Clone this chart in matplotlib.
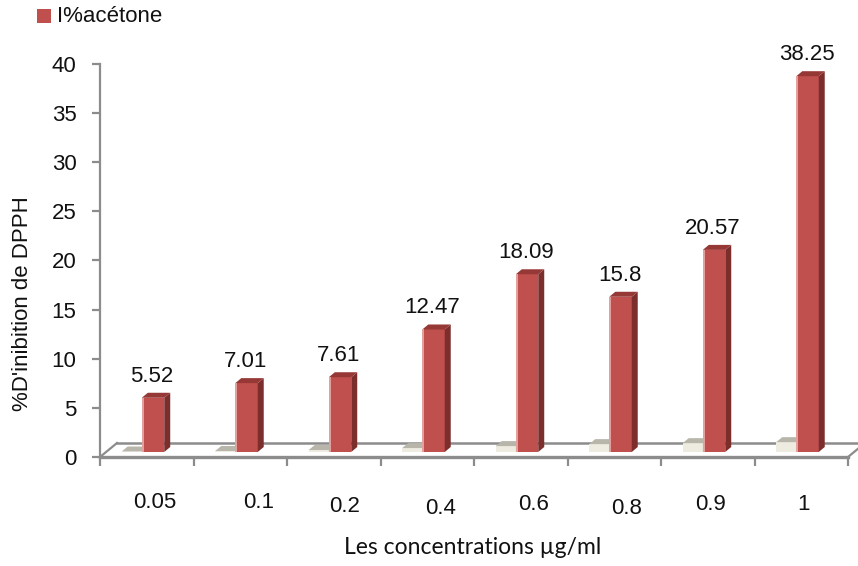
import matplotlib
matplotlib.use('Agg')
import matplotlib.pyplot as plt
from matplotlib.patches import Polygon, Rectangle
from matplotlib.transforms import ScaledTranslation

# ---------------- data ----------------
categories = ['0.05', '0.1', '0.2', '0.4', '0.6', '0.8', '0.9', '1']
inhibition = [5.52, 7.01, 7.61, 12.47, 18.09, 15.8, 20.57, 38.25]   # I%acétone
concentration = [0.05, 0.1, 0.2, 0.4, 0.6, 0.8, 0.9, 1]              # hidden second series
y_ticks = [0, 5, 10, 15, 20, 25, 30, 35, 40]
series_name = 'I%acétone'
x_title = 'Les concentrations µg/ml'
y_title = "%D'inibition de DPPH"

# small text nudges (pixels) for the category labels, as placed in the original
label_dx = [8, 18, 11, 13, 13, 12, 3, 2]
label_dy = [-46, -45, -49, -51, -48, -51, -48, -48]

# ---------------- fonts ----------------
ARIAL = ['Liberation Sans', 'DejaVu Sans']
HUMAN = ['Lato', 'DejaVu Sans']
FS = 16

# ---------------- layout ----------------
W, H = 858, 566
DPI = 100
L, R, T, B = 100, 848, 64, 457     # plot frame in pixels
fig = plt.figure(figsize=(W / DPI, H / DPI), dpi=DPI)
ax = fig.add_axes([L / W, 1 - B / H, (R - L) / W, (B - T) / H])
n = len(categories)
ax.set_xlim(0, n)
ax.set_ylim(y_ticks[0], y_ticks[-1])

sx = (R - L) / n                              # px per category
sy = (B - T) / (y_ticks[-1] - y_ticks[0])     # px per unit
GREY = '#8c8c8c'

# axes styling
for s in ['top', 'right', 'bottom']:
    ax.spines[s].set_visible(False)
ax.spines['left'].set_color(GREY)
ax.spines['left'].set_linewidth(1.6)
ax.set_yticks(y_ticks)
ax.set_yticklabels([str(v) for v in y_ticks], fontfamily=ARIAL, fontsize=FS, color='#111111')
ax.set_xticks(range(n + 1))
ax.set_xticklabels([''] * (n + 1))
ax.tick_params(axis='y', direction='out', length=6, width=1.6, color=GREY, pad=11)
ax.tick_params(axis='x', direction='out', length=6.5, width=1.6, color=GREY)

# floor (3D depth)
fdx, fdy = 17 / sx, 14 / sy
floor = Polygon([(0, 0), (n, 0), (n + fdx, fdy), (fdx, fdy)], closed=True,
                facecolor='white', edgecolor='none', zorder=1, clip_on=False)
ax.add_patch(floor)
ax.plot([fdx, n + fdx * 2], [fdy, fdy], color=GREY, lw=1.8, zorder=1.5, clip_on=False)
ax.plot([0, fdx], [0, fdy], color=GREY, lw=1.6, zorder=1.5, clip_on=False)
ax.plot([n, n + fdx], [0, fdy], color=GREY, lw=1.6, zorder=1.5, clip_on=False)
ax.plot([0, n], [0, 0], color=GREY, lw=2.4, zorder=4, clip_on=False)

# bars
shift = ax.transData + ScaledTranslation(0, 5 / DPI, fig.dpi_scale_trans)
bdx, bdy = 6 / sx, 5 / sy
red_off, red_w = 0.067, 0.24
beige_w = 0.215


def bar3d(xl, w, h, front, top, side, z):
    ax.bar(xl, h, width=w, align='edge', color=front, transform=shift, zorder=z, linewidth=0)
    ax.add_patch(Polygon([(xl + w, 0), (xl + w + bdx, bdy), (xl + w + bdx, h + bdy), (xl + w, h)],
                         closed=True, facecolor=side, edgecolor='none', transform=shift, zorder=z))
    ax.add_patch(Polygon([(xl, h), (xl + w, h), (xl + w + bdx, h + bdy), (xl + bdx, h + bdy)],
                         closed=True, facecolor=top, edgecolor='none', transform=shift, zorder=z))


for i in range(n):
    c = i + 0.5
    rl = c + red_off - red_w / 2
    # beige series (behind / left)
    bar3d(rl - beige_w, beige_w, concentration[i], '#eeece1', '#b8b5aa', '#d3d0c2', 2)
    # red series
    bar3d(rl, red_w, inhibition[i], '#c0504d', '#963836', '#7c2e2c', 3)
    ax.bar(rl, inhibition[i], width=2 / sx, align='edge', color='#e2a09e', transform=shift,
           zorder=3.1, linewidth=0)
    ax.annotate(f'{inhibition[i]:g}', xy=(c + red_off, inhibition[i]), xytext=(-1, 21),
                textcoords='offset pixels', ha='center', va='baseline',
                fontfamily=ARIAL, fontsize=FS, color='#111111', zorder=5)
    ax.annotate(categories[i], xy=(c, 0), xytext=(label_dx[i], label_dy[i]),
                textcoords='offset pixels', ha='center', va='center', fontfamily=ARIAL,
                fontsize=FS, color='#111111', annotation_clip=False)

# axis titles
fig.text(23 / W, 1 - 304 / H, y_title, rotation=90, ha='center', va='center',
         fontfamily=ARIAL, fontsize=FS, color='#111111')
fig.text(473 / W, 1 - 547 / H, x_title, ha='center', va='center',
         fontfamily=HUMAN, fontsize=16.5, color='#111111')

# legend
fig.patches.append(Rectangle((37 / W, 1 - 23 / H), 14 / W, 14 / H, transform=fig.transFigure,
                             facecolor='#c0504d', edgecolor='none'))
fig.text(57 / W, 1 - 16 / H, series_name, ha='left', va='center',
         fontfamily=ARIAL, fontsize=FS, color='#111111')

fig.savefig('out.png', dpi=DPI, facecolor='white')
